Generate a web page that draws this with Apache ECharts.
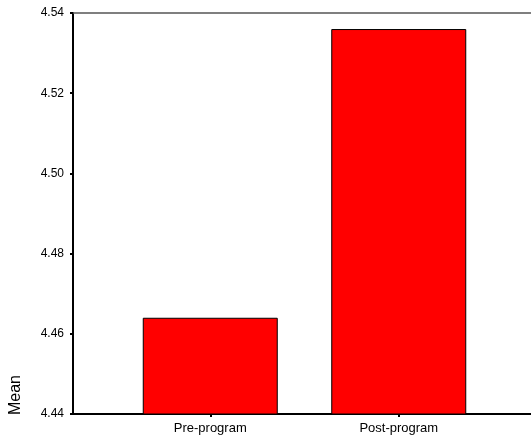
<!DOCTYPE html>
<html><head><meta charset="utf-8">
<script src="https://cdn.jsdelivr.net/npm/echarts@6/dist/echarts.min.js"></script>
<style>html,body{margin:0;padding:0;background:#fff}#c{width:531px;height:438px}</style>
</head><body><div id="c"></div>
<script>
var categories = ['Pre-program', 'Post-program'];
var means = [4.464, 4.536];
var yMin = 4.44, yMax = 4.54, yStep = 0.02;
var yTitle = 'Mean';

var chart = echarts.init(document.getElementById('c'), null, {renderer: 'canvas'});
var font = 'Liberation Sans, Arial, sans-serif';
chart.setOption({
  animation: false,
  grid: [
    {left: 73, right: 0, top: 13, bottom: 24},
    {left: 116, width: 377, top: 13, bottom: 24}
  ],
  xAxis: [
    {gridIndex: 0, type: 'category', data: categories, position: 'bottom',
     axisLine: {show: true, lineStyle: {color: '#000', width: 2}},
     axisTick: {show: false}, axisLabel: {show: false}, splitLine: {show: false}},
    {gridIndex: 0, type: 'category', data: categories, position: 'top',
     axisLine: {show: true, lineStyle: {color: '#555', width: 1.5}},
     axisTick: {show: false}, axisLabel: {show: false}, splitLine: {show: false}},
    {gridIndex: 1, type: 'category', data: categories, position: 'bottom',
     axisLine: {show: false},
     axisTick: {show: true, alignWithLabel: true, length: 3, lineStyle: {color: '#000', width: 2}},
     axisLabel: {show: true, color: '#000', fontFamily: font, fontSize: 13, margin: 8},
     splitLine: {show: false}}
  ],
  yAxis: [
    {gridIndex: 0, type: 'value', min: yMin, max: yMax, interval: yStep,
     axisLine: {show: true, lineStyle: {color: '#000', width: 2}},
     axisTick: {show: true, length: 3, lineStyle: {color: '#000', width: 2}},
     axisLabel: {color: '#000', fontFamily: font, fontSize: 12, margin: 9,
                 formatter: function (v) { return v.toFixed(2); }},
     splitLine: {show: false}},
    {gridIndex: 1, type: 'value', min: yMin, max: yMax, interval: yStep, show: false}
  ],
  graphic: [{
    type: 'text', x: 16, y: 415, rotation: Math.PI / 2,
    style: {text: yTitle, fill: '#000', font: '16px ' + font, align: 'left', verticalAlign: 'middle'}
  }],
  series: [{
    type: 'bar', xAxisIndex: 2, yAxisIndex: 1, data: means, barWidth: 135,
    itemStyle: {color: '#ff0000', borderColor: '#000', borderWidth: 1}
  }]
});
</script></body></html>
